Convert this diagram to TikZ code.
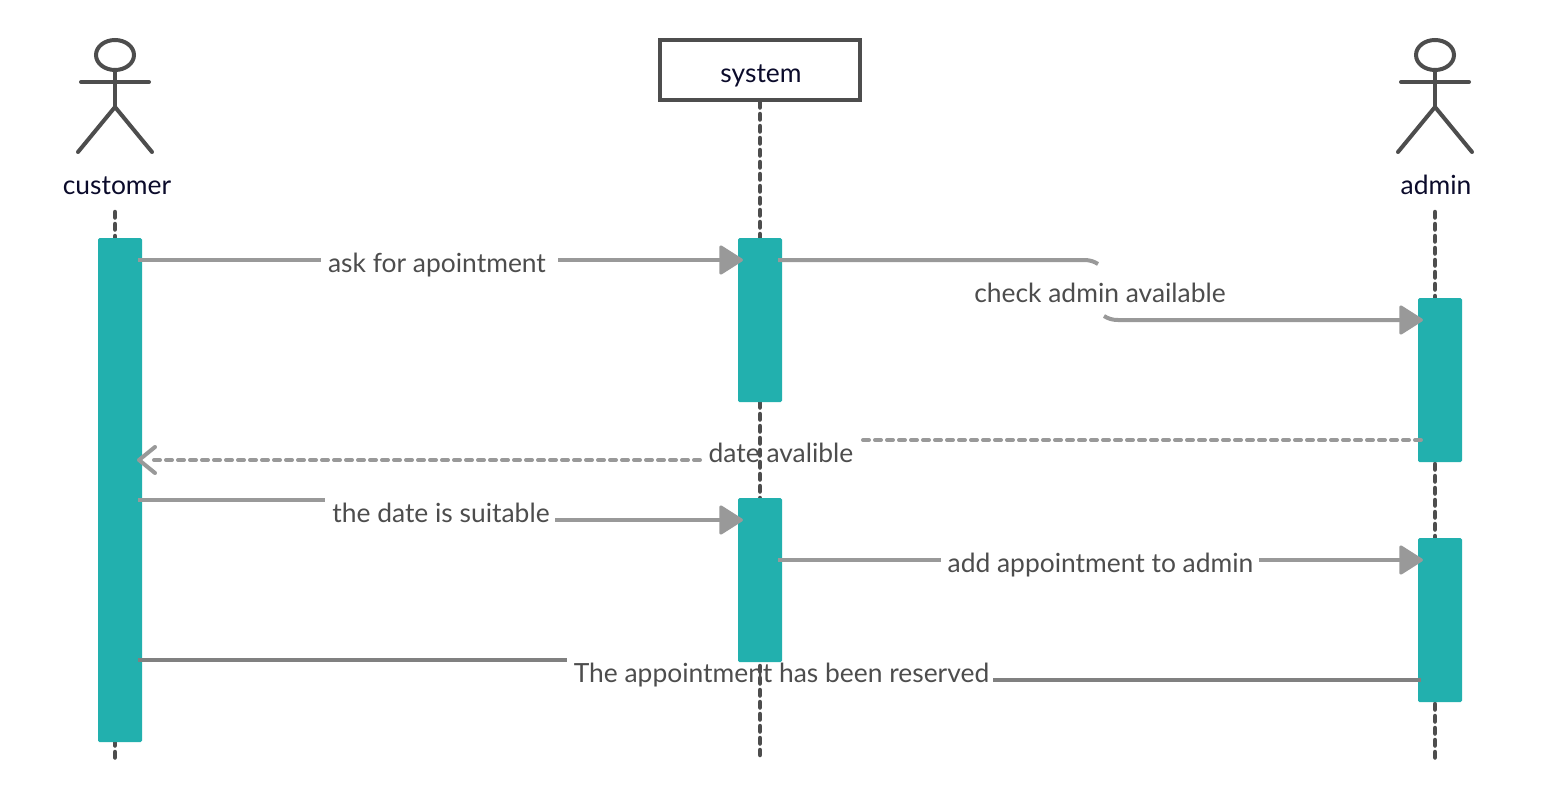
\documentclass[tikz,border=0pt]{standalone}
\usepackage{fontspec}
\setmainfont{Lato}
\usetikzlibrary{arrows.meta}
\definecolor{teal2}{HTML}{22B0AE}
\definecolor{ink}{HTML}{4D4D4D}
\definecolor{navy2}{HTML}{0B0B2B}
\definecolor{conn}{HTML}{999999}
\definecolor{conndark}{HTML}{808080}
\tikzset{
  x=1pt,y=-1pt,
  lbl/.style={inner sep=0pt,anchor=base,text=ink,font=\fontsize{26.4}{30}\selectfont},
  actorlbl/.style={inner sep=0pt,anchor=base,text=navy2,font=\fontsize{26.4}{30}\selectfont},
  bar/.style={fill=teal2,rounded corners=1.5pt,inner sep=0pt,minimum width=44pt,anchor=north},
  lifeline/.style={draw=ink,line width=4.5pt,dash pattern=on 5.5pt off 6.5pt,line cap=round},
  figure/.style={draw=ink,line width=4pt,line cap=round},
  msg/.style={draw=conn,line width=4pt},
  msgdash/.style={draw=conn,line width=4pt,dash pattern=on 6pt off 6pt,line cap=round},
  msgdark/.style={draw=conndark,line width=4pt},
  solidhead/.style={-{Triangle[length=25pt,width=31pt,round,line width=3pt]}},
}
\begin{document}
\begin{tikzpicture}
\useasboundingbox (0,0) rectangle (1550,800);
\fill[white] (0,0) rectangle (1550,800);
% labels
\node[lbl] (l1) at (437,272) {ask for apointment};
\node[lbl] (l2) at (1100,302) {check admin available};
\node[lbl] (l3) at (781,462) {date avalible};
\node[lbl] (l4) at (441,522) {the date is suitable};
\node[lbl] (l5) at (1100.5,572) {add appointment to admin};
\node[lbl] (l6) at (781.5,682) {The appointment has been reserved};
\node[actorlbl] (ncust) at (117,194) {customer};
\node[actorlbl] (nadm) at (1436,194) {admin};
% system box
\node[draw=ink,line width=4pt,minimum width=200pt,minimum height=60pt,inner sep=0pt] (sys) at (760,70) {};
\node[actorlbl] (nsys) at (761,82) {system};
% lifeline ends
\coordinate (ct) at (115,212);
\coordinate (cb) at (115,760);
\coordinate (sb) at (760,755);
\coordinate (at) at (1435,212);
\coordinate (ab) at (1435,760);
\draw[lifeline] (ct) -- (cb);
\draw[lifeline] (sys.south -| sb) -- (sb);
\draw[lifeline] (at) -- (ab);
% actors
\foreach \n/\x in {c/115,a/1435}{
  \draw[figure] (\x,55) ellipse [x radius=19,y radius=15];
  \draw[figure] (\x,70) -- (\x,107);
  \draw[figure] (\x-34,82) -- (\x+34,82);
  \draw[figure] (\x-37,152) -- (\x,107) -- (\x+37,152);
}
% activation bars
\node[bar,minimum height=504pt] (bc) at (120,238) {};
\node[bar,minimum height=164pt] (bs1) at (760,238) {};
\node[bar,minimum height=164pt] (bs2) at (760,498) {};
\node[bar,minimum height=164pt] (ba1) at (1440,298) {};
\node[bar,minimum height=164pt] (ba2) at (1440,538) {};
% connector anchor points
\coordinate (m1a) at (138,260);  \coordinate (m1b) at (321,260);
\coordinate (m1c) at (558,260);  \coordinate (m1d) at (743,260);
\coordinate (m2a) at (778,260);  \coordinate (m2b) at (1084,260);
\coordinate (m2c) at (1098,264); \coordinate (m2d) at (1104,316);
\coordinate (m2e) at (1118,320); \coordinate (m2f) at (1423,320);
\coordinate (m3a) at (1421,440); \coordinate (m3b) at (860,440);
\coordinate (m3c) at (700,460);  \coordinate (m3d) at (139,460);
\coordinate (m4a) at (138,500);  \coordinate (m4b) at (325,500);
\coordinate (m4c) at (555,520);  \coordinate (m4d) at (743,520);
\coordinate (m5a) at (778,560);  \coordinate (m5b) at (941,560);
\coordinate (m5c) at (1259,560); \coordinate (m5d) at (1423,560);
\coordinate (m6a) at (138,660);  \coordinate (m6b) at (567,660);
\coordinate (m6c) at (993,680);  \coordinate (m6d) at (1421,680);
% connectors
\draw[msg] (m1a) -- (m1b);
\draw[msg,solidhead] (m1c) -- (m1d);
\draw[msg] (m2a) -- (m2b) .. controls (1090,260) and (1094,261.5) .. (m2c);
\draw[msg,solidhead] (m2d) .. controls (1108,318.5) and (1112,320) .. (m2e) -- (m2f);
\draw[msgdash] (m3a) -- (m3b);
\draw[msgdash] (m3c) -- (153,460);
\draw[draw=conn,line width=4pt,line cap=round,line join=round] (155,447) -- (m3d) -- (155,473);
\draw[msg] (m4a) -- (m4b);
\draw[msg,solidhead] (m4c) -- (m4d);
\draw[msg] (m5a) -- (m5b);
\draw[msg,solidhead] (m5c) -- (m5d);
\draw[msgdark] (m6a) -- (m6b);
\draw[msgdark] (m6c) -- (m6d);
\end{tikzpicture}
\end{document}
